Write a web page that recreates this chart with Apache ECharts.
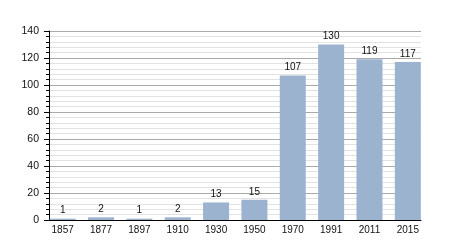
<!DOCTYPE html>
<html><head><meta charset="utf-8">
<script src="https://cdn.jsdelivr.net/npm/echarts@6/dist/echarts.min.js"></script>
<style>html,body{margin:0;padding:0;background:#fff}#c{width:450px;height:250px}</style>
</head><body><div id="c"></div>
<script>
const years = ['1857','1877','1897','1910','1930','1950','1970','1991','2011','2015'];
const population = [1, 2, 1, 2, 13, 15, 107, 130, 119, 117];
const yTicks = [0, 20, 40, 60, 80, 100, 120, 140];

const FONT = 'Liberation Sans, Arial, sans-serif';
const yMin = yTicks[0], yMax = yTicks[yTicks.length - 1];
const chart = echarts.init(document.getElementById('c'), null, {renderer: 'canvas'});
chart.setOption({
  animation: false,
  grid: [
    {left: 43.5, right: 23, top: 31, bottom: 30},
    {left: 49, right: 29, top: 31, bottom: 30}
  ],
  xAxis: [{
    gridIndex: 0, type: 'category', data: years,
    axisLine: {show: false},
    axisTick: {show: false},
    axisLabel: {color: '#111', fontSize: 10, fontFamily: FONT, margin: 5}
  }, {
    gridIndex: 1, type: 'value', min: 0, max: 1,
    axisLine: {show: true, onZero: false, lineStyle: {color: '#000', width: 1}},
    axisTick: {show: false}, axisLabel: {show: false}, splitLine: {show: false}
  }],
  yAxis: [{
    gridIndex: 0, type: 'value', min: yMin, max: yMax, interval: 20,
    show: false, splitLine: {show: false}
  }, {
    gridIndex: 1, type: 'value', min: yMin, max: yMax, interval: 20,
    axisLine: {show: true, lineStyle: {color: '#000', width: 1}},
    axisTick: {show: true, length: 5, lineStyle: {color: '#000'}},
    minorTick: {show: true, splitNumber: 5, length: 3, lineStyle: {color: '#000'}},
    axisLabel: {color: '#111', fontSize: 10.5, fontFamily: FONT, margin: 10},
    splitLine: {show: true, lineStyle: {color: '#aaa', width: 1}},
    minorSplitLine: {show: true, lineStyle: {color: '#e2e2e2', width: 1}}
  }],
  series: [{
    type: 'bar', xAxisIndex: 0, yAxisIndex: 0, data: population, barWidth: '67.8%',
    itemStyle: {color: '#9bb3cf'},
    label: {show: true, position: 'top', color: '#111', fontSize: 10, fontFamily: FONT, distance: 3}
  }]
});
</script></body></html>
